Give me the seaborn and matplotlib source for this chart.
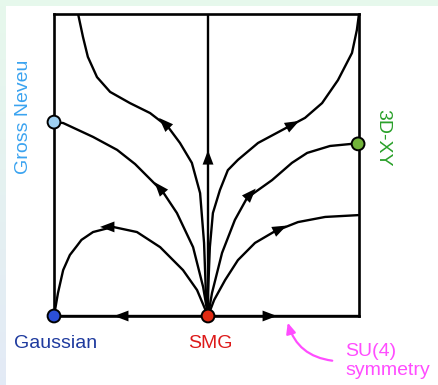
import numpy as np
import pandas as pd
import seaborn as sns
from matplotlib import pyplot as plt
from matplotlib.patches import Rectangle, FancyArrowPatch

# RG flow lines, couplings normalised to the box (u right, v up), starting at SMG
gauss_u = [0.505, 0.487, 0.469, 0.423, 0.348, 0.272, 0.193, 0.128, 0.090, 0.075, 0.052, 0.030, 0.013, 0.0]
gauss_v = [0.0, 0.043, 0.086, 0.152, 0.228, 0.278, 0.295, 0.278, 0.252, 0.232, 0.202, 0.152, 0.076, 0.0]

gn_u = [0.505, 0.489, 0.456, 0.403, 0.357, 0.266, 0.207, 0.128, 0.030, 0.0]
gn_v = [0.0, 0.096, 0.228, 0.341, 0.411, 0.503, 0.550, 0.593, 0.639, 0.642]

topleft_u = [0.505, 0.498, 0.492, 0.479, 0.452, 0.413, 0.374, 0.315, 0.249, 0.184, 0.141, 0.111, 0.095, 0.079]
topleft_v = [0.0, 0.076, 0.242, 0.407, 0.507, 0.573, 0.626, 0.672, 0.705, 0.742, 0.791, 0.858, 0.924, 1.0]

vert_u = [0.505, 0.505, 0.505]
vert_v = [0.0, 0.507, 1.0]

topright_u = [0.505, 0.505, 0.511, 0.521, 0.544, 0.570, 0.603, 0.669, 0.767, 0.823, 0.879, 0.931, 0.977, 0.993, 1.0]
topright_v = [0.0, 0.076, 0.228, 0.341, 0.417, 0.483, 0.517, 0.573, 0.626, 0.656, 0.705, 0.781, 0.871, 0.947, 1.0]

xy_u = [0.505, 0.518, 0.551, 0.593, 0.633, 0.715, 0.780, 0.830, 0.905, 0.977, 0.997]
xy_v = [0.0, 0.076, 0.209, 0.318, 0.391, 0.450, 0.507, 0.540, 0.563, 0.570, 0.570]

lowright_u = [0.505, 0.525, 0.561, 0.603, 0.659, 0.725, 0.800, 0.889, 0.997]
lowright_v = [0.0, 0.053, 0.119, 0.185, 0.242, 0.281, 0.311, 0.328, 0.334]

botleft_u = [0.505, 0.239, 0.0]
botleft_v = [0.0, 0.0, 0.0]
botright_u = [0.505, 0.689, 1.0]
botright_v = [0.0, 0.0, 0.0]

curves = {
    'gauss': (gauss_u, gauss_v, 6),
    'gn': (gn_u, gn_v, 4),
    'topleft': (topleft_u, topleft_v, 6),
    'vert': (vert_u, vert_v, 1),
    'topright': (topright_u, topright_v, 8),
    'xy': (xy_u, xy_v, 4),
    'lowright': (lowright_u, lowright_v, 5),
    'botleft': (botleft_u, botleft_v, 1),
    'botright': (botright_u, botright_v, 1),
}

# fixed points
fp_names = ['Gaussian', 'SMG', 'Gross Neveu', '3D-XY']
fp_u = [0.0, 0.505, 0.0, 0.997]
fp_v = [0.0, 0.0, 0.642, 0.570]
fp_colors = ['#2b4fd8', '#e02a12', '#9fd0f2', '#72b33a']

rows = []
for name, (u, v, _) in curves.items():
    for a, b in zip(u, v):
        rows.append({'curve': name, 'u': a, 'v': b})
flow = pd.DataFrame(rows)
fixed = pd.DataFrame({'name': fp_names, 'u': fp_u, 'v': fp_v})

sns.set_style('white')
plt.rcParams['font.family'] = ['Liberation Sans', 'DejaVu Sans']

fig = plt.figure(figsize=(4.38, 3.85), dpi=100)
fig.patch.set_facecolor('white')

# pale frame strips at the top and left edge
fig.patches.append(Rectangle((0, 1 - 6 / 385), 1, 6 / 385, transform=fig.transFigure,
                             facecolor='#e6f8ec', edgecolor='none', zorder=0))
strip = fig.add_axes([0, 0, 6 / 438, 1 - 6 / 385])
grad = np.linspace(0, 1, 100)[:, None]
top_c = np.array([0.905, 0.972, 0.926])
bot_c = np.array([0.890, 0.918, 0.965])
strip.imshow(top_c + grad[..., None] * (bot_c - top_c), aspect='auto')
strip.axis('off')

ax = fig.add_axes([54 / 438, 69 / 385, 305 / 438, 302 / 385])
sns.lineplot(data=flow, x='u', y='v', units='curve', estimator=None, sort=False,
             color='black', linewidth=1.7, ax=ax)

# arrow heads along each flow line
for name, (u, v, k) in curves.items():
    du = u[min(k + 1, len(u) - 1)] - u[max(k - 1, 0)]
    dv = v[min(k + 1, len(v) - 1)] - v[max(k - 1, 0)]
    n = np.hypot(du, dv)
    d = 0.042
    ax.annotate('', xy=(u[k] + d * du / n, v[k] + d * dv / n), xytext=(u[k], v[k]),
                arrowprops=dict(arrowstyle='-|>,head_length=0.45,head_width=0.17',
                                mutation_scale=23, color='black', lw=0,
                                shrinkA=0, shrinkB=0))

sns.scatterplot(data=fixed, x='u', y='v', hue='name', palette=fp_colors, s=85,
                edgecolor='black', linewidth=1.4, legend=False, clip_on=False,
                zorder=5, ax=ax)

ax.set_xlim(0, 1)
ax.set_ylim(0, 1)
ax.set_xticks([])
ax.set_yticks([])
ax.set_xlabel('')
ax.set_ylabel('')
for sp in ax.spines.values():
    sp.set_color('black')
    sp.set_linewidth(1.9)

fig.text(56 / 438, 1 - 344 / 385, 'Gaussian', color='#1e3a9e', fontsize=14, ha='center', va='center')
fig.text(210 / 438, 1 - 344 / 385, 'SMG', color='#dd1a1a', fontsize=14, ha='center', va='center')
fig.text(24 / 438, 1 - 117 / 385, 'Gross Neveu', color='#3aa3f0', fontsize=14, ha='center',
         va='center', rotation=90)
fig.text(383 / 438, 1 - 138 / 385, '3D-XY', color='#2aa02a', fontsize=14, ha='center',
         va='center', rotation=270)
fig.text(345 / 438, 1 - 361 / 385, 'SU(4)\nsymmetry', color='#ff4dff', fontsize=14, ha='left',
         va='center', linespacing=1.1)

fig.patches.append(FancyArrowPatch((335 / 438, 1 - 361 / 385), (287 / 438, 1 - 320 / 385),
                                   transform=fig.transFigure, connectionstyle='arc3,rad=-0.35',
                                   arrowstyle='-|>,head_length=0.45,head_width=0.2',
                                   mutation_scale=14, color='#ff4dff', lw=1.6))

fig.savefig('out.png', dpi=100)
